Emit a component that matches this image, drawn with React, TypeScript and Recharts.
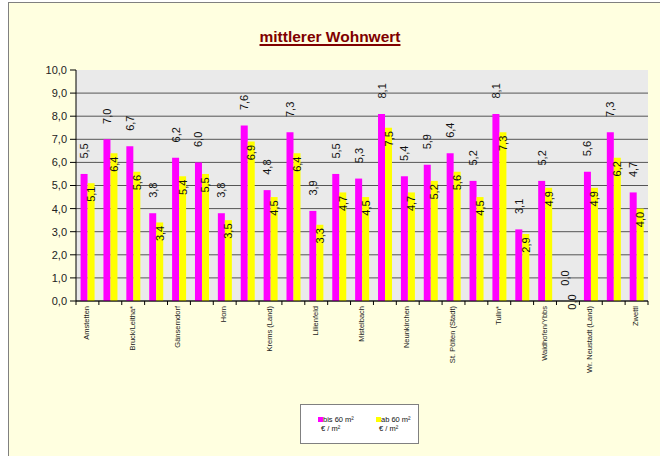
import React from "react";
import { Bar, BarChart, CartesianGrid, LabelList, XAxis, YAxis } from "recharts";

const categories = [
  "Amstetten",
  "Baden",
  "Bruck/Leitha*",
  "Gmünd",
  "Gänserndorf",
  "Hollabrunn",
  "Horn",
  "Korneuburg",
  "Krems (Land)",
  "Krems (Stadt)",
  "Lilienfeld",
  "Melk",
  "Mistelbach",
  "Mödling",
  "Neunkirchen",
  "St. Pölten (Land)",
  "St. Pölten (Stadt)",
  "Scheibbs",
  "Tulln*",
  "Waidhofen/Thaya",
  "Waidhofen/Ybbs",
  "Wr. Neustadt (Stadt)",
  "Wr. Neustadt (Land)",
  "Wien-Umgebung",
  "Zwettl",
];

const bis60 = [5.5, 7.0, 6.7, 3.8, 6.2, 6.0, 3.8, 7.6, 4.8, 7.3, 3.9, 5.5, 5.3, 8.1, 5.4, 5.9, 6.4, 5.2, 8.1, 3.1, 5.2, 0.0, 5.6, 7.3, 4.7];
const ab60 = [5.1, 6.4, 5.6, 3.4, 5.4, 5.5, 3.5, 6.9, 4.5, 6.4, 3.3, 4.7, 4.5, 7.5, 4.7, 5.2, 5.6, 4.5, 7.3, 2.9, 4.9, 0.0, 4.9, 6.2, 4.0];

const yTicks = [0, 1, 2, 3, 4, 5, 6, 7, 8, 9, 10];

const data = categories.map((name, i) => ({ name, bis60: bis60[i], ab60: ab60[i] }));

const FONT = "Arial, 'Liberation Sans', sans-serif";
const W = 660;
const H = 456;
const M = { top: 70, right: 12, left: 0, bottom: 95 };
const Y_W = 76;
const PLOT_W = W - M.left - M.right - Y_W;

const fmt = (v: number) => v.toFixed(1).replace(".", ",");

function CategoryTick(props: any) {
  const { x, y, payload, index } = props;
  const half = PLOT_W / categories.length / 2;
  return (
    <g>
      {index === 0 && <line x1={x - half} x2={x - half} y1={y} y2={y + 4} stroke="#000" />}
      <line x1={x + half} x2={x + half} y1={y} y2={y + 4} stroke="#000" />
      {index % 2 === 0 && (
        <text
          transform={`translate(${x - 1}, ${y + 5}) rotate(-90)`}
          textAnchor="end"
          dominantBaseline="central"
          fontSize={7.5}
          fontFamily={FONT}
          fill="#222"
        >
          {payload.value}
        </text>
      )}
    </g>
  );
}

function makeLabel(offset: (h: number) => number) {
  return (props: any) => {
    const { x, y, width, height, value } = props;
    const h = Number(height);
    const cx = Number(x) + Number(width) / 2;
    const cy = Number(y) + offset(h);
    return (
      <text
        transform={`translate(${cx}, ${cy}) rotate(-90)`}
        textAnchor="middle"
        dominantBaseline="central"
        fontSize={11}
        fontFamily={FONT}
        fill="#111"
      >
        {fmt(Number(value))}
      </text>
    );
  };
}

const pinkLabel = makeLabel(() => -23);
const yellowLabel = makeLabel((h) => (h > 0.5 ? 11 : 1));

const gridLine = (p: any) =>
  p.y1 <= M.top + 0.5 ? <g key={p.key} /> : <line key={p.key} x1={p.x1} x2={p.x2} y1={p.y1} y2={p.y2} stroke="#555" />;

export default function App() {
  return (
    <div style={{ position: "absolute", left: 0, top: 0, width: W, height: H, overflow: "hidden", background: "#fff" }}>
      <div
        style={{
          position: "absolute",
          left: 8,
          top: 2,
          width: 720,
          height: 520,
          border: "1px solid #808080",
          background: "#FFFFE0",
        }}
      />
      <div
        style={{
          position: "absolute",
          left: 0,
          top: 28,
          width: W,
          textAlign: "center",
          fontFamily: FONT,
          fontWeight: "bold",
          fontSize: 15.5,
          color: "#800000",
          textDecoration: "underline",
          textDecorationThickness: 2,
          textUnderlineOffset: 2,
        }}
      >
        mittlerer Wohnwert
      </div>
      <div style={{ position: "absolute", left: 0, top: 0 }}>
        <BarChart width={W} height={H} data={data} margin={M} barCategoryGap="20%" barGap={0}>
          <CartesianGrid vertical={false} horizontal={gridLine} fill="#EAEAEA" fillOpacity={1} />
          <XAxis
            dataKey="name"
            interval={0}
            height={60}
            tickSize={0}
            tickMargin={0}
            tickLine={false}
            axisLine={{ stroke: "#000" }}
            tick={<CategoryTick />}
          />
          <YAxis
            width={Y_W}
            domain={[0, 10]}
            ticks={yTicks}
            tickFormatter={fmt}
            tickSize={6}
            tickMargin={3}
            axisLine={{ stroke: "#000" }}
            tickLine={{ stroke: "#000" }}
            tick={{ fill: "#222", fontSize: 11, fontFamily: FONT }}
          />
          <Bar dataKey="bis60" fill="#FF00FF" minPointSize={0.01} isAnimationActive={false}>
            <LabelList dataKey="bis60" content={pinkLabel} />
          </Bar>
          <Bar dataKey="ab60" fill="#FFFF00" minPointSize={0.01} isAnimationActive={false}>
            <LabelList dataKey="ab60" content={yellowLabel} />
          </Bar>
        </BarChart>
      </div>
      <div
        style={{
          position: "absolute",
          left: 300,
          top: 404,
          width: 117,
          height: 38,
          border: "1px solid #808080",
          background: "#fff",
          fontFamily: FONT,
          fontSize: 7.5,
          color: "#111",
        }}
      >
        <div style={{ position: "absolute", left: 17, top: 12, width: 5, height: 5, background: "#FF00FF" }} />
        <div style={{ position: "absolute", left: 22, top: 10, lineHeight: "9px" }}>bis 60 m²</div>
        <div style={{ position: "absolute", left: 20, top: 19, lineHeight: "9px" }}>€ / m²</div>
        <div style={{ position: "absolute", left: 75, top: 12, width: 5, height: 5, background: "#FFFF00" }} />
        <div style={{ position: "absolute", left: 80, top: 10, lineHeight: "9px" }}>ab 60 m²</div>
        <div style={{ position: "absolute", left: 78, top: 19, lineHeight: "9px" }}>€ / m²</div>
      </div>
    </div>
  );
}
